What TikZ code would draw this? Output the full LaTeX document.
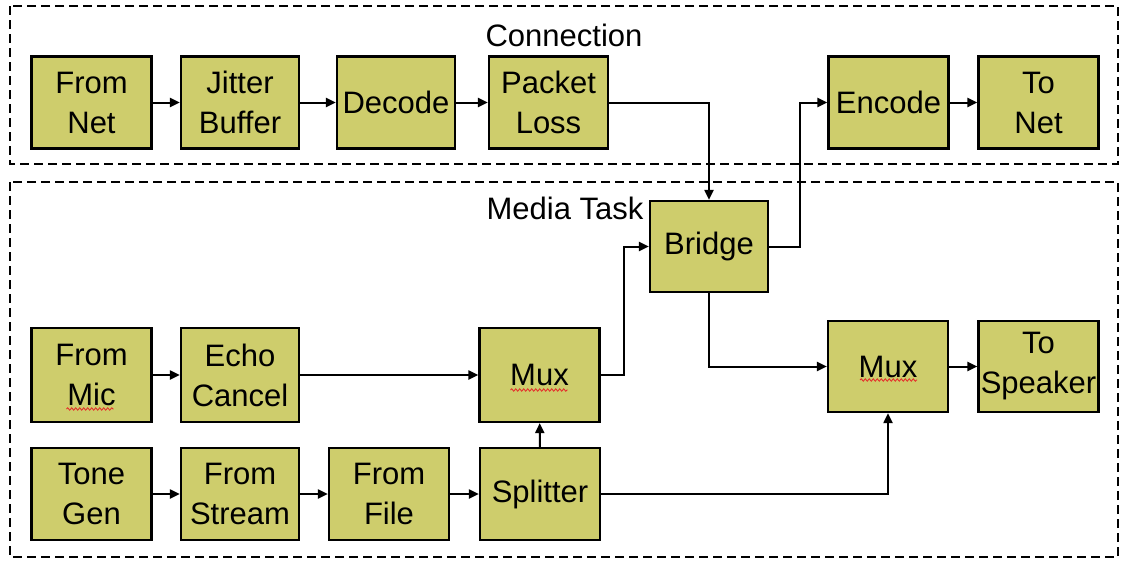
\documentclass[tikz,border=0pt]{standalone}
\usepackage{fontspec}
\setmainfont{Liberation Sans}
\usetikzlibrary{arrows.meta,calc,decorations.pathmorphing}
\definecolor{blockfill}{RGB}{206,205,108}
\definecolor{spellred}{RGB}{230,40,40}
\begin{document}
\begin{tikzpicture}[x=1pt,y=-1pt,
  block/.style={draw=black,line width=2.2pt,fill=blockfill,minimum width=120pt,
    minimum height=92pt,inner sep=0pt,align=center,
    font=\fontsize{31}{40}\selectfont},
  frame/.style={draw=black,line width=1.5pt,dash pattern=on 9pt off 5pt},
  title/.style={font=\fontsize{31}{40}\selectfont,inner sep=0pt},
  flow/.style={line width=2pt,-{Triangle[length=10pt,width=9pt]}},
  squiggle/.style={draw=spellred,line width=0.8pt,decorate,
    decoration={snake,amplitude=1.2pt,segment length=4pt}}]
\useasboundingbox (0,0) rectangle (1122,560);

% group frames
\draw[frame] (10,6) rectangle (1118,164);
\draw[frame] (10,182) rectangle (1118,557);
\node[title] (conn) at (564,35) {Connection};
\node[title] (media) at (565,208) {Media Task};

% connection blocks
\node[block] (fromnet) at (91.5,102.5) {From\\Net};
\node[block,minimum width=118pt] (jitter) at (240,102.5) {Jitter\\Buffer};
\node[block,minimum width=118pt] (decode) at (396,102.5) {Decode};
\node[block,minimum width=119pt] (packet) at (548.5,102.5) {Packet\\Loss};
\node[block] (encode) at (888.5,102.5) {Encode};
\node[block] (tonet) at (1038.5,102.5) {To\\Net};

% media task blocks
\node[block,minimum width=118pt,minimum height=91pt] (bridge) at (709,246.5) {Bridge};
\node[block,minimum height=94pt] (frommic) at (91.5,375) {From\\Mic};
\node[block,minimum width=118pt,minimum height=94pt] (echo) at (240,375) {Echo\\Cancel};
\node[block,minimum height=94pt] (muxa) at (539.5,375) {Mux};
\node[block,minimum height=91pt] (muxb) at (888,366.5) {Mux};
\node[block,minimum height=91pt] (speaker) at (1038.5,366.5) {To\\Speaker};
\node[block] (tonegen) at (91.5,494) {Tone\\Gen};
\node[block,minimum width=118pt] (stream) at (240,494) {From\\Stream};
\node[block] (file) at (389,494) {From\\File};
\node[block] (splitter) at (540,494) {Splitter};

% spelling marks under words
\draw[squiggle] ($(frommic.center)+(-25,34)$) -- ($(frommic.center)+(22,34)$);
\draw[squiggle] ($(muxa.center)+(-29,15)$) -- ($(muxa.center)+(28,15)$);
\draw[squiggle] ($(muxb.center)+(-28,13.5)$) -- ($(muxb.center)+(29,13.5)$);

% connection data path
\draw[flow] (fromnet) -- (jitter);
\draw[flow] (jitter) -- (decode);
\draw[flow] (decode) -- (packet);
\draw[flow] (packet.east) -| (bridge.north);
\coordinate (upturn) at ($(bridge.east)+(31,0)$);
\draw[flow] (bridge.east) -- (upturn) |- (encode.west);
\draw[flow] (encode) -- (tonet);

% media task data path
\draw[flow] (frommic) -- (echo);
\draw[flow] (echo) -- (muxa);
\coordinate (muxturn) at ($(muxa.east)+(23,0)$);
\draw[flow] (muxa.east) -- (muxturn) |- (bridge.west);
\draw[flow] (bridge.south) |- (muxb.west);
\draw[flow] (muxb) -- (speaker);
\draw[flow] (tonegen) -- (stream);
\draw[flow] (stream) -- (file);
\draw[flow] (file) -- (splitter);
\draw[flow] (splitter) -- (muxa);
\draw[flow] (splitter.east) -| (muxb.south);
\end{tikzpicture}
\end{document}
